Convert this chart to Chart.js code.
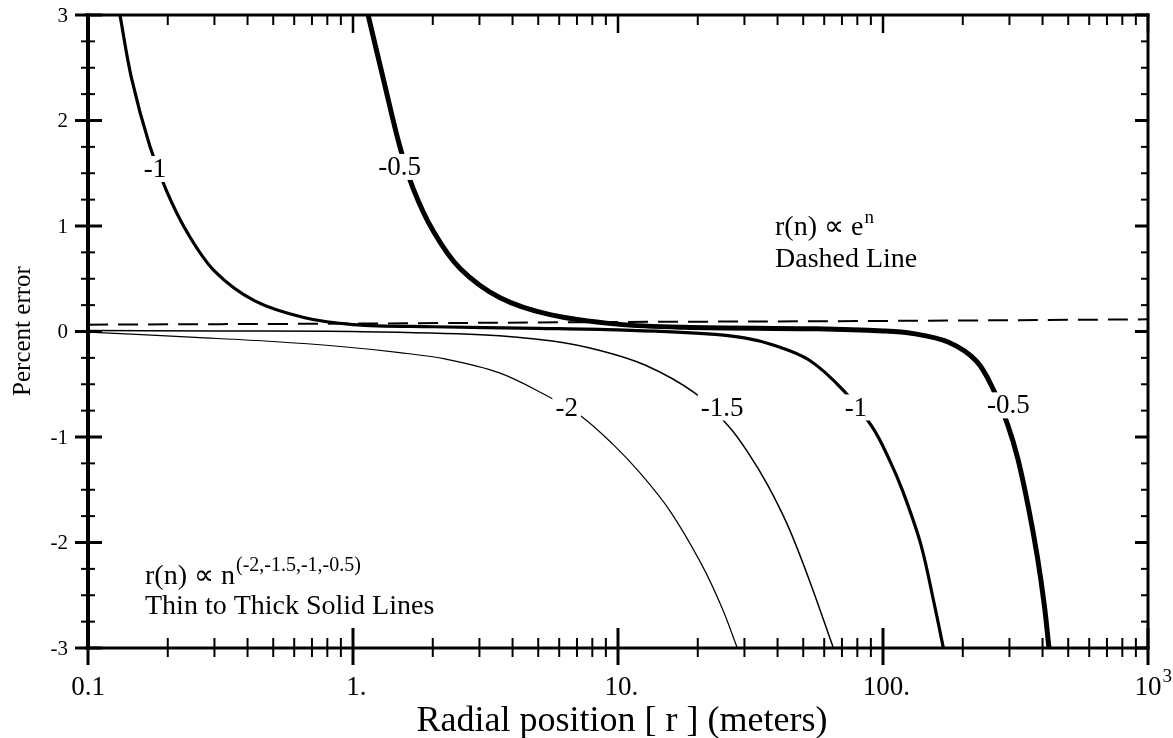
<!DOCTYPE html>
<html>
<head>
<meta charset="utf-8">
<script src="https://cdn.jsdelivr.net/npm/chart.js@4.4.1/dist/chart.umd.min.js"></script>
<style>
  html, body { margin: 0; padding: 0; background: #fff; }
  #wrap { width: 1173px; height: 738px; }
</style>
</head>
<body>
<div id="wrap"><canvas id="chart" width="1173" height="738"></canvas></div>
<script>
// Percent error vs radial position — r(n) ∝ n^p (solid) and r(n) ∝ e^n (dashed)

const SERIF = '"Liberation Serif", "Times New Roman", serif';

// [radius (m), percent error]
const curveN2 = [
  [0.1, -0.005], [0.254, -0.056], [0.5, -0.095], [0.877, -0.14], [1.5, -0.2],
  [2.22, -0.26], [3.55, -0.39], [5.31, -0.6], [7.24, -0.8], [9.58, -1.07],
  [12.2, -1.35], [15.7, -1.7], [20.6, -2.2], [24.7, -2.62], [28.2, -3.0],
];
const curveN15 = [
  [0.1, 0.01], [0.3, 0.005], [1.0, 0.0], [3.04, -0.03], [5.65, -0.09],
  [8.55, -0.18], [12.7, -0.32], [19.4, -0.58], [26.2, -0.9], [31, -1.15],
  [36.6, -1.45], [43.9, -1.85], [52.6, -2.35], [65, -3.0],
];
const curveN1 = [
  [0.132, 3.0], [0.146, 2.4], [0.171, 1.76], [0.198, 1.33], [0.238, 0.93],
  [0.301, 0.57], [0.426, 0.29], [0.658, 0.13], [1.0, 0.066], [2.0, 0.045],
  [5.0, 0.03], [10, 0.015], [21, -0.02], [30, -0.06], [38.8, -0.13],
  [52.6, -0.27], [71, -0.56], [90.8, -0.9], [105, -1.2], [119, -1.52],
  [139, -2.02], [156, -2.58], [169, -3.0],
];
const curveN05 = [
  [1.14, 3.0], [1.3, 2.4], [1.5, 1.76], [1.69, 1.35], [2.01, 0.95],
  [2.53, 0.6], [3.59, 0.32], [5.54, 0.16], [9.9, 0.07], [17.7, 0.04],
  [56, 0.025], [100, 0.005], [130, -0.02], [176, -0.1], [225, -0.28],
  [262, -0.56], [296, -0.89], [323, -1.21], [354, -1.67], [382, -2.13],
  [406, -2.59], [423, -3.0],
];
const curveExp = [[0.1, 0.065], [1, 0.075], [10, 0.09], [100, 0.1], [1000, 0.115]];

// labels sitting on the curves (data coords)
const curveLabels = [
  { text: "-1", x: 0.179, y: 1.54 },
  { text: "-0.5", x: 1.5, y: 1.56 },
  { text: "-2", x: 6.4, y: -0.72 },
  { text: "-1.5", x: 24.7, y: -0.72 },
  { text: "-1", x: 79, y: -0.72 },
  { text: "-0.5", x: 297, y: -0.7 },
];

// axes
const xTickVals = [0.1, 1, 10, 100, 1000];
const xTickText = ["0.1", "1", "10", "100", "10"];
const xTickSuffix = ["", ".", ".", ".", ""];
const xTickSup = ["", "", "", "", "3"];
const yTickVals = [-3, -2, -1, 0, 1, 2, 3];
const yTickText = ["-3", "-2", "-1", "0", "1", "2", "3"];
const xTitle = "Radial position [ r ] (meters)";
const yTitle = "Percent error";

function minorX() {
  const out = [];
  [0.1, 1, 10, 100].forEach((d) => { for (let k = 2; k <= 9; k++) out.push(d * k); });
  return out;
}
function minorY() {
  const out = [];
  for (let i = -3; i < 3; i++) [0.25, 0.5, 0.75].forEach((f) => out.push(i + f));
  return out;
}

function seg(ctx, x1, y1, x2, y2, w) {
  ctx.lineWidth = w;
  ctx.beginPath(); ctx.moveTo(x1, y1); ctx.lineTo(x2, y2); ctx.stroke();
}

const framePlugin = {
  id: "frame",
  afterDatasetsDraw(chart) {
    const { ctx, scales: { x, y } } = chart;
    ctx.save();
    ctx.font = `27px ${SERIF}`;
    ctx.textAlign = "center";
    ctx.textBaseline = "middle";
    curveLabels.forEach((l) => {
      const px = x.getPixelForValue(l.x), py = y.getPixelForValue(l.y);
      const w = ctx.measureText(l.text).width + 6;
      ctx.fillStyle = "#fff";
      ctx.fillRect(px - w / 2, py - 13, w, 26);
      ctx.fillStyle = "#000";
      ctx.fillText(l.text, px, py + 1);
    });
    ctx.restore();
  },
  afterDraw(chart) {
    const { ctx, chartArea: { left, right, top, bottom }, scales: { x, y } } = chart;
    ctx.save();
    ctx.strokeStyle = "#000";
    ctx.fillStyle = "#000";
    ctx.lineCap = "butt";

    // frame
    seg(ctx, left - 3, top, right + 1.5, top, 3);
    seg(ctx, left - 3, bottom, right + 1.5, bottom, 3);
    seg(ctx, left, top - 1.5, left, bottom + 1.5, 4);
    seg(ctx, right, top - 1.5, right, bottom + 1.5, 3);

    // y ticks
    yTickVals.forEach((v) => {
      const py = y.getPixelForValue(v);
      seg(ctx, left - 13, py, left + 14, py, 3);
      seg(ctx, right - 13, py, right, py, 3);
    });
    minorY().forEach((v) => {
      const py = y.getPixelForValue(v);
      seg(ctx, left - 7, py, left + 7, py, 2);
      seg(ctx, right - 7, py, right, py, 2);
    });

    // x ticks
    xTickVals.forEach((v) => {
      const px = x.getPixelForValue(v);
      seg(ctx, px, bottom - 20, px, bottom + 17, 3);
      seg(ctx, px, top, px, top + 18, 2.5);
    });
    minorX().forEach((v) => {
      const px = x.getPixelForValue(v);
      seg(ctx, px, bottom - 10, px, bottom + 9, 2);
      seg(ctx, px, top, px, top + 10, 2);
    });

    // y tick labels
    ctx.font = `21px ${SERIF}`;
    ctx.textAlign = "right";
    ctx.textBaseline = "middle";
    yTickVals.forEach((v, i) => ctx.fillText(yTickText[i], left - 20, y.getPixelForValue(v) + 1));

    // x tick labels: number centred on tick, trailing dot / exponent hangs right
    ctx.textBaseline = "alphabetic";
    xTickVals.forEach((v, i) => {
      const px = x.getPixelForValue(v);
      ctx.font = `27px ${SERIF}`;
      ctx.textAlign = "center";
      ctx.fillText(xTickText[i], px, 695);
      const half = ctx.measureText(xTickText[i]).width / 2;
      ctx.textAlign = "left";
      if (xTickSuffix[i]) ctx.fillText(xTickSuffix[i], px + half, 695);
      if (xTickSup[i]) {
        ctx.font = `19px ${SERIF}`;
        ctx.fillText(xTickSup[i], px + half + 1, 682);
      }
    });

    // axis titles
    ctx.font = `36px ${SERIF}`;
    ctx.textAlign = "center";
    ctx.fillText(xTitle, 622, 731);
    ctx.save();
    ctx.translate(30, 331);
    ctx.rotate(-Math.PI / 2);
    ctx.font = `25px ${SERIF}`;
    ctx.textBaseline = "alphabetic";
    ctx.fillText(yTitle, 0, 0);
    ctx.restore();

    // annotations
    ctx.textAlign = "left";
    ctx.font = `28px ${SERIF}`;
    let w = ctx.measureText("r(n) \u221D e").width;
    ctx.fillText("r(n) \u221D e", 775, 235);
    ctx.font = `19px ${SERIF}`;
    ctx.fillText("n", 775 + w + 1, 223);
    ctx.font = `28px ${SERIF}`;
    ctx.fillText("Dashed Line", 775, 267);

    w = ctx.measureText("r(n) \u221D n").width;
    ctx.fillText("r(n) \u221D n", 145, 584);
    ctx.font = `20px ${SERIF}`;
    ctx.fillText("(-2,-1.5,-1,-0.5)", 145 + w + 1, 571);
    ctx.font = `28px ${SERIF}`;
    ctx.fillText("Thin to Thick Solid Lines", 145, 614);

    ctx.restore();
  },
};

function ds(points, width, dash) {
  return {
    data: points.map(([x, y]) => ({ x, y })),
    borderColor: "#000",
    borderWidth: width,
    borderDash: dash || [],
    pointRadius: 0,
    fill: false,
    tension: 0.35,
  };
}

new Chart(document.getElementById("chart"), {
  type: "line",
  data: {
    datasets: [
      ds(curveExp, 2, [20, 10]),
      ds(curveN2, 1.2),
      ds(curveN15, 1.5),
      ds(curveN1, 3.2),
      ds(curveN05, 5),
    ],
  },
  options: {
    responsive: false,
    animation: false,
    devicePixelRatio: 1,
    layout: { padding: { left: 88, right: 25, top: 15, bottom: 90 } },
    plugins: { legend: { display: false }, tooltip: { enabled: false } },
    scales: {
      x: { type: "logarithmic", min: 0.1, max: 1000, display: false },
      y: { type: "linear", min: -3, max: 3, display: false },
    },
  },
  plugins: [framePlugin],
});
</script>
</body>
</html>
